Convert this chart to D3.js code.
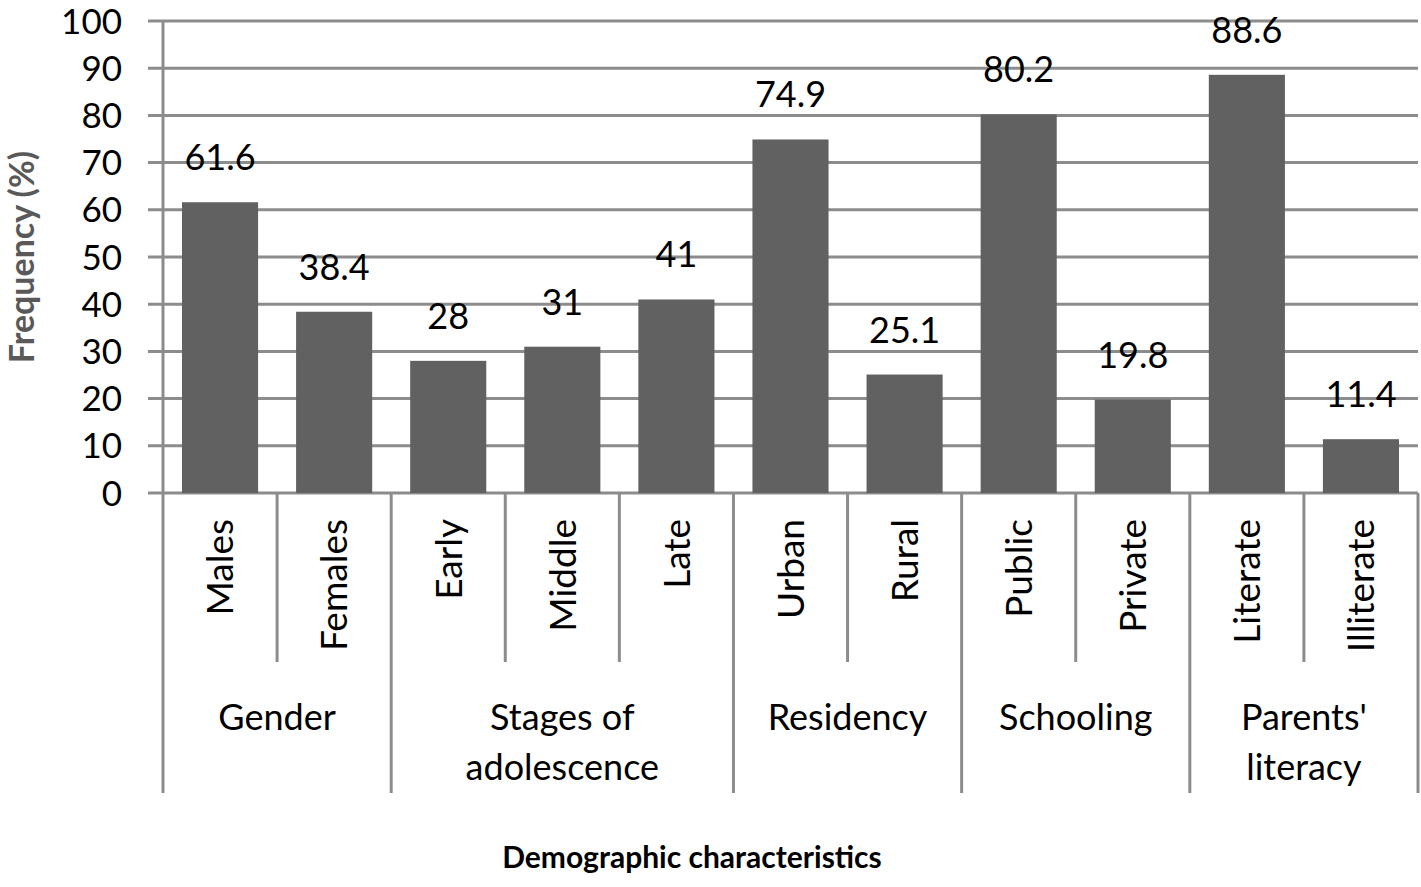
<!DOCTYPE html>
<html lang="en">
<head>
<meta charset="UTF-8">
<title>Demographic characteristics</title>
<style>
  body { margin: 0; background: #fff; }
  svg text { font-family: Lato, "Open Sans", sans-serif; fill: #000; }
  .grid line { stroke: #8c8c8c; stroke-width: 3px; }
  .divider { stroke: #8c8c8c; stroke-width: 3px; }
</style>
</head>
<body>
<svg id="chart" width="1421" height="887"></svg>
<script src="https://d3js.org/d3.v7.min.js"></script>
<script>
// data
const categories = ["Males", "Females", "Early", "Middle", "Late", "Urban", "Rural", "Public", "Private", "Literate", "Illiterate"];
const values = [61.6, 38.4, 28, 31, 41, 74.9, 25.1, 80.2, 19.8, 88.6, 11.4];
const groups = ["Gender", "Stages of\nadolescence", "Residency", "Schooling", "Parents'\nliteracy"];
const groupSizes = [2, 3, 2, 2, 2];
const yTicks = [0, 10, 20, 30, 40, 50, 60, 70, 80, 90, 100];

const svg = d3.select("#chart");
const plotLeft = 163, plotRight = 1418, plotTop = 21, plotBottom = 493;

const x = d3.scaleBand().domain(categories).range([plotLeft, plotRight]).paddingInner(0.333).paddingOuter(0.1665);
const y = d3.scaleLinear().domain([0, 100]).range([plotBottom, plotTop]);

// gridlines + ticks
svg.append("g").attr("class", "grid")
  .selectAll("line").data(yTicks).enter().append("line")
  .attr("x1", plotLeft - 15).attr("x2", plotRight)
  .attr("y1", d => y(d)).attr("y2", d => y(d));

svg.append("g").selectAll("text").data(yTicks).enter().append("text")
  .attr("x", 122).attr("y", d => y(d)).attr("dy", "0.36em")
  .attr("text-anchor", "end").style("font-size", "35px")
  .text(d => d);

// vertical axis
svg.append("line").attr("class", "divider")
  .attr("x1", plotLeft).attr("x2", plotLeft).attr("y1", plotTop).attr("y2", plotBottom);

// bars
svg.append("g").selectAll("rect").data(values).enter().append("rect")
  .attr("x", (d, i) => x(categories[i]))
  .attr("width", x.bandwidth())
  .attr("y", d => y(d))
  .attr("height", d => plotBottom - y(d))
  .attr("fill", "#616161");

// value labels
svg.append("g").selectAll("text").data(values).enter().append("text")
  .attr("x", (d, i) => x(categories[i]) + x.bandwidth() / 2)
  .attr("y", d => y(d) - 32)
  .attr("text-anchor", "middle").style("font-size", "36px")
  .text(d => d);

// category labels (rotated)
const step = x.step();
svg.append("g").selectAll("text").data(categories).enter().append("text")
  .attr("transform", d => `translate(${x(d) + x.bandwidth() / 2},519) rotate(-90)`)
  .attr("dy", "0.36em").attr("text-anchor", "end").style("font-size", "37px")
  .text(d => d);

// inner dividers and group dividers
let idx = 0;
const groupStarts = [];
groupSizes.forEach(n => { groupStarts.push(idx); idx += n; });
const edgeX = i => plotLeft + i * step;

for (let i = 0; i <= categories.length; i++) {
  const isGroupEdge = i === categories.length || groupStarts.includes(i);
  svg.append("line").attr("class", "divider")
    .attr("x1", edgeX(i)).attr("x2", edgeX(i))
    .attr("y1", plotBottom).attr("y2", isGroupEdge ? 793 : 662);
}

// group labels
groups.forEach((g, gi) => {
  const cx = (edgeX(groupStarts[gi]) + edgeX(groupStarts[gi] + groupSizes[gi])) / 2;
  const lines = g.split("\n");
  const t = svg.append("text").attr("text-anchor", "middle").style("font-size", "36px");
  lines.forEach((ln, li) => {
    t.append("tspan").attr("x", cx).attr("y", 730 + li * 50).text(ln);
  });
});

// axis titles
svg.append("text")
  .attr("transform", `translate(34,${(plotTop + plotBottom) / 2}) rotate(-90)`)
  .attr("text-anchor", "middle").style("font-size", "34px").style("font-weight", "bold")
  .style("fill", "#595959")
  .text("Frequency (%)");

svg.append("text")
  .attr("x", 692).attr("y", 868)
  .attr("text-anchor", "middle").style("font-size", "30px").style("font-weight", "bold")
  .text("Demographic characteristics");
</script>
</body>
</html>
